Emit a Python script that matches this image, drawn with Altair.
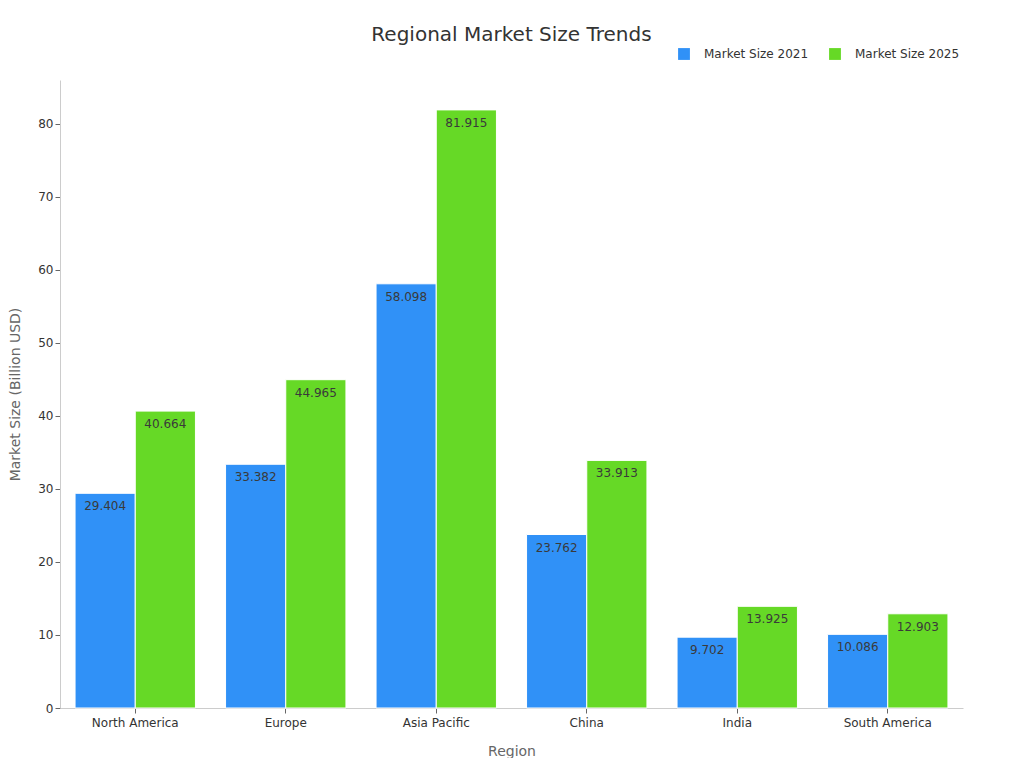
import altair as alt
import pandas as pd

regions = ["North America", "Europe", "Asia Pacific", "China", "India", "South America"]
size_2021 = [29.404, 33.382, 58.098, 23.762, 9.702, 10.086]
size_2025 = [40.664, 44.965, 81.915, 33.913, 13.925, 12.903]
series = ["Market Size 2021", "Market Size 2025"]
colors = ["#3091F7", "#66D926"]

rows = []
for r, a, b in zip(regions, size_2021, size_2025):
    rows.append({"Region": r, "Series": series[0], "Value": a})
    rows.append({"Region": r, "Series": series[1], "Value": b})
df = pd.DataFrame(rows)

FONT = "DejaVu Sans"
ymax = max(size_2025) * 1.05

base = alt.Chart(df).encode(
    x=alt.X("Region:N", sort=regions,
            scale=alt.Scale(paddingInner=0.2, paddingOuter=0.1),
            axis=alt.Axis(title="Region", labelAngle=0, labelFontSize=12, labelColor="#333333",
                          titleFontSize=14, titleColor="#666666", titleFontWeight="normal",
                          titlePadding=16, domainColor="#cccccc", tickColor="#666666",
                          labelPadding=4)),
    xOffset=alt.XOffset("Series:N", sort=series),
    y=alt.Y("Value:Q", scale=alt.Scale(domain=[0, ymax], nice=False),
            axis=alt.Axis(title="Market Size (Billion USD)", grid=False, values=[0,10,20,30,40,50,60,70,80],
                          labelFontSize=12, labelColor="#333333", titleFontSize=14,
                          titleColor="#666666", titleFontWeight="normal", titlePadding=15,
                          domainColor="#cccccc", tickColor="#666666")),
)

bars = base.mark_bar(stroke="white", strokeWidth=1).encode(
    color=alt.Color("Series:N", sort=series, scale=alt.Scale(domain=series, range=colors),
                    legend=alt.Legend(title=None, orient="none", direction="horizontal",
                                      legendX=618, legendY=-32, symbolType="square",
                                      symbolSize=140, symbolStrokeWidth=0, labelFontSize=12,
                                      labelOffset=14, labelColor="#333333", columnPadding=20,
                                      symbolOpacity=1)),
)

labels = base.mark_text(baseline="top", dy=8, fontSize=12, color="#3a3a3a", font=FONT).encode(
    text=alt.Text("Value:Q", format=".3f")
)

chart = (bars + labels).properties(
    width=903, height=628,
    title=alt.TitleParams("Regional Market Size Trends", fontSize=20, font=FONT,
                          fontWeight="normal", color="#333333", anchor="middle", offset=3),
    autosize=alt.AutoSizeParams(type="none"),
    padding={"left": 52, "top": 72, "right": 53, "bottom": 50},
).configure(font=FONT).configure_view(stroke=None).configure_legend(labelFont=FONT)

chart.save("out.html", embed_options={"renderer": "svg", "actions": False})
